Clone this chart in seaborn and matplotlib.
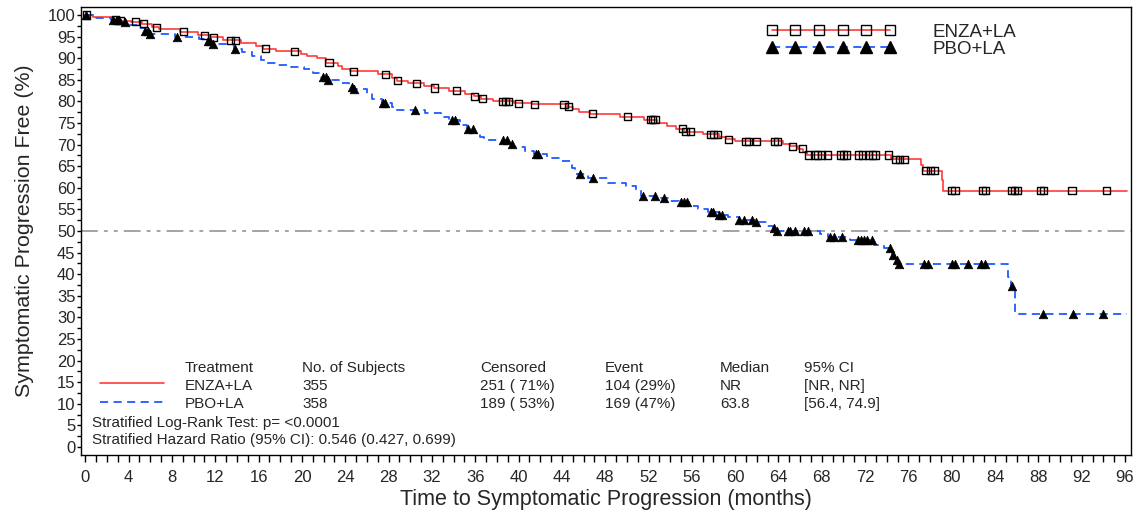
import numpy as np
import matplotlib
matplotlib.use("Agg")
import matplotlib.pyplot as plt
from matplotlib.lines import Line2D
from matplotlib.legend_handler import HandlerLine2D
from matplotlib.ticker import MultipleLocator
import seaborn as sns

# ---- Kaplan-Meier estimates: event times (months) and survival (%) after each drop ----
enza_event_t = [0.7, 2.5, 3.0, 4.2, 5.2, 6.2, 6.8, 8.7, 10.4, 11.5, 12.7, 14.4, 15.8, 16.4,
                17.6, 19.9, 20.5, 21.4, 22.2, 23.3, 23.7, 24.4, 27.0, 28.3, 28.8, 29.8, 31.3,
                32.2, 33.6, 35.1, 35.9, 36.5, 37.6, 39.6, 41.2, 44.5, 45.0, 45.6, 46.6, 49.4,
                51.6, 52.8, 53.7, 54.5, 55.3, 57.0, 58.5, 59.2, 60.0, 64.4, 65.1, 65.8, 66.3,
                66.6, 74.4, 77.2, 77.3, 79.1, 79.2]
enza_event_s = [99.6, 99.0, 98.7, 98.4, 98.0, 97.2, 96.7, 96.1, 95.3, 94.8, 94.2, 93.6, 92.8, 92.2,
                91.6, 91.0, 90.5, 90.0, 89.0, 88.3, 87.6, 87.0, 86.3, 85.5, 84.8, 84.2, 83.6,
                83.1, 82.5, 81.8, 81.2, 80.6, 80.0, 79.6, 79.3, 78.8, 78.2, 77.6, 77.1, 76.5,
                75.8, 74.9, 74.3, 73.7, 73.0, 72.4, 71.8, 71.2, 70.8, 70.2, 69.6, 69.0, 68.3,
                67.6, 66.6, 65.3, 64.0, 61.8, 59.3]
enza_cens_t = [0.1, 2.8, 3.2, 4.6, 5.4, 6.6, 9.1, 11.0, 11.8, 13.4, 13.9, 16.6, 19.3, 22.5, 24.8,
               27.7, 28.8, 30.6, 32.2, 34.3, 35.9, 36.7, 38.5, 38.8, 39.1, 40.0, 41.5, 44.2, 44.6,
               46.8, 50.1, 52.2, 52.4, 52.6, 55.1, 55.4, 55.9, 57.7, 58.0, 58.4, 59.4, 61.0, 61.2,
               62.0, 63.6, 63.9, 65.3, 66.2, 66.8, 67.3, 67.6, 68.0, 68.5, 69.7, 70.0, 70.3, 71.4,
               71.8, 72.3, 72.7, 73.0, 74.2, 74.8, 75.2, 75.6, 77.6, 78.0, 78.4, 80.0, 80.3, 82.8,
               83.1, 85.5, 85.8, 86.1, 88.2, 88.5, 91.1, 94.3]

pbo_event_t = [0.7, 2.4, 3.3, 3.8, 4.9, 5.5, 5.9, 8.3, 10.5, 11.2, 11.6, 13.7, 14.5, 15.4, 16.2,
               16.8, 17.8, 19.0, 20.2, 21.0, 21.8, 22.4, 23.6, 24.3, 24.7, 26.0, 26.5, 27.4, 28.3,
               28.6, 31.4, 32.8, 33.6, 34.6, 35.2, 35.9, 36.4, 36.8, 39.0, 39.5, 40.6, 41.4, 42.6,
               43.8, 44.9, 45.2, 46.4, 48.3, 49.9, 50.8, 51.3, 52.8, 53.8, 54.8, 55.7, 56.6, 57.5,
               58.5, 59.3, 60.4, 61.8, 62.9, 63.5, 63.8, 67.8, 68.6, 70.6, 72.8, 73.7, 74.5, 74.8,
               75.0, 85.2, 85.5, 85.8]
pbo_event_s = [99.4, 98.9, 98.3, 97.6, 96.9, 96.2, 95.6, 95.0, 94.5, 94.0, 93.3, 92.2, 91.4, 90.6,
               89.6, 89.0, 88.4, 87.9, 87.4, 86.6, 85.6, 84.9, 84.2, 83.4, 82.8, 81.8, 80.6, 79.7,
               78.6, 78.0, 77.3, 76.5, 75.7, 74.5, 73.6, 72.8, 71.8, 71.0, 70.2, 69.5, 68.5, 67.8,
               67.0, 66.2, 64.6, 63.2, 62.2, 61.2, 60.4, 59.4, 58.2, 57.6, 57.0, 56.6, 55.8, 55.1,
               54.5, 53.6, 53.2, 52.5, 52.0, 51.2, 50.6, 49.9, 49.2, 48.7, 47.9, 46.8, 46.1, 44.4,
               43.3, 42.3, 39.4, 37.3, 30.9]
pbo_cens_t = [0.1, 2.6, 2.9, 3.1, 3.7, 5.5, 5.8, 6.0, 8.5, 11.3, 11.5, 11.8, 13.8, 21.9, 22.2,
              22.4, 24.6, 24.8, 27.5, 27.7, 30.4, 33.9, 34.1, 35.3, 35.8, 38.6, 38.9, 39.4, 41.6,
              41.8, 45.7, 46.9, 51.5, 52.6, 53.4, 55.0, 55.3, 55.6, 57.8, 58.0, 58.5, 58.8, 60.4,
              60.8, 61.6, 61.9, 63.6, 63.9, 64.9, 65.1, 65.5, 66.4, 66.7, 68.8, 69.1, 69.9, 71.3,
              71.6, 71.9, 72.2, 72.6, 74.3, 74.6, 74.9, 75.1, 77.4, 77.8, 80.0, 80.3, 81.5, 82.7,
              83.1, 85.6, 88.4, 91.2, 94.0]

follow_up_end = 96.2

# ---- summary table ----
table_header = ["Treatment", "No. of Subjects", "Censored", "Event", "Median", "95% CI"]
enza_row = ["ENZA+LA", "355", "251 ( 71%)", "104 (29%)", "NR", "[NR, NR]"]
pbo_row = ["PBO+LA", "358", "189 ( 53%)", "169 (47%)", "63.8", "[56.4, 74.9]"]
stat_lines = ["Stratified Log-Rank Test: p= <0.0001",
              "Stratified Hazard Ratio (95% CI): 0.546 (0.427, 0.699)"]

RED = "#ff3b3b"
BLUE = "#1f5bff"


def km_curve(event_t, event_s, end_t):
    x = np.concatenate([[0.0], event_t, [end_t]])
    y = np.concatenate([[100.0], event_s, [event_s[-1]]])
    return x, y


def surv_at(event_t, event_s, t):
    idx = np.searchsorted(np.asarray(event_t), np.asarray(t), side="right") - 1
    s = np.concatenate([[100.0], event_s])
    return s[idx + 1]


sns.set_style("ticks")
plt.rcParams["font.family"] = ["Liberation Sans", "DejaVu Sans"]

fig = plt.figure(figsize=(11.39, 5.15), dpi=100)
W, H = 1139, 515
ax = fig.add_axes([81 / W, 1 - 455 / H, (1131 - 81) / W, (455 - 7) / H])

# median reference line
ax.axhline(50, color="#8c8c8c", lw=1.1, dashes=(11, 4, 2.5, 4, 2.5, 4), zorder=1)

# step curves
ex, ey = km_curve(enza_event_t, enza_event_s, follow_up_end)
px, py = km_curve(pbo_event_t, pbo_event_s, follow_up_end)
sns.lineplot(x=ex, y=ey, drawstyle="steps-post", color=RED, lw=1.2,
             estimator=None, sort=False, ax=ax, zorder=2)
sns.lineplot(x=px, y=py, drawstyle="steps-post", color=BLUE, lw=1.3,
             estimator=None, sort=False, ax=ax, zorder=2)
ax.lines[-1].set_dashes((4.5, 3))

# censoring marks
sns.scatterplot(x=enza_cens_t, y=surv_at(enza_event_t, enza_event_s, enza_cens_t),
                marker="s", s=26, facecolors="none", edgecolor="black", linewidth=1.0,
                ax=ax, zorder=3)
sns.scatterplot(x=pbo_cens_t, y=surv_at(pbo_event_t, pbo_event_s, pbo_cens_t),
                marker="^", s=38, color="black", edgecolor="black", linewidth=0.5,
                ax=ax, zorder=3)

# axes
ax.set_xlim(-0.4, 96.55)
ax.set_ylim(-1.85, 101.85)
ax.xaxis.set_major_locator(MultipleLocator(4))
ax.xaxis.set_minor_locator(MultipleLocator(1))
ax.yaxis.set_major_locator(MultipleLocator(5))
ax.yaxis.set_minor_locator(MultipleLocator(2.5))
ax.tick_params(axis="x", which="both", length=5, width=1, color="black", direction="out",
               labelsize=12, pad=6)
ax.tick_params(axis="y", which="major", length=3, width=1, color="black", labelsize=12, pad=1)
ax.tick_params(axis="y", which="minor", length=3, width=1, color="black")
for sp in ax.spines.values():
    sp.set_visible(True)
    sp.set_color("black")
    sp.set_linewidth(1.0)
ax.set_xlabel("Time to Symptomatic Progression (months)", fontsize=15.5, labelpad=3)
ax.set_ylabel("Symptomatic Progression Free (%)", fontsize=15.4, labelpad=10)
ax.grid(False)

# legend
h_enza = Line2D([], [], color=RED, lw=1.2, marker="s", markersize=7,
                markerfacecolor="none", markeredgecolor="black", markeredgewidth=1.0)
h_pbo = Line2D([], [], color=BLUE, lw=1.3, linestyle=(0, (4.5, 3)), marker="^",
               markersize=8, markerfacecolor="black", markeredgecolor="black")
leg = ax.legend([h_enza, h_pbo], ["ENZA+LA", "PBO+LA"], loc="upper left",
                bbox_to_anchor=(0.6400, 0.963), frameon=False, fontsize=13.5,
                handlelength=8.3, handletextpad=1.3, labelspacing=0.0,
                borderpad=0, borderaxespad=0,
                handler_map={h_enza: HandlerLine2D(numpoints=6, marker_pad=1.0),
                             h_pbo: HandlerLine2D(numpoints=6, marker_pad=1.0)})

# summary table under the curves
col_x = [0.099, 0.2105, 0.38, 0.499, 0.6086, 0.6886]
row_y = [0.1942, 0.154, 0.1138]
tfs = 11
for cx, txt in zip(col_x, table_header):
    ax.text(cx, row_y[0], txt, transform=ax.transAxes, fontsize=tfs, va="center", ha="left")
for cx, txt in zip(col_x, enza_row):
    ax.text(cx, row_y[1], txt, transform=ax.transAxes, fontsize=tfs, va="center", ha="left")
for cx, txt in zip(col_x, pbo_row):
    ax.text(cx, row_y[2], txt, transform=ax.transAxes, fontsize=tfs, va="center", ha="left")
ax.plot([0.0181, 0.079], [0.1607, 0.1607], transform=ax.transAxes, color=RED, lw=1.2)
ax.plot([0.0181, 0.079], [0.1183, 0.1183], transform=ax.transAxes, color=BLUE, lw=1.3,
        dashes=(4.5, 3))
ax.text(0.0105, 0.0714, stat_lines[0], transform=ax.transAxes, fontsize=tfs, va="center")
ax.text(0.0105, 0.0335, stat_lines[1], transform=ax.transAxes, fontsize=tfs, va="center")

fig.savefig("out.png", dpi=100, facecolor="white")
